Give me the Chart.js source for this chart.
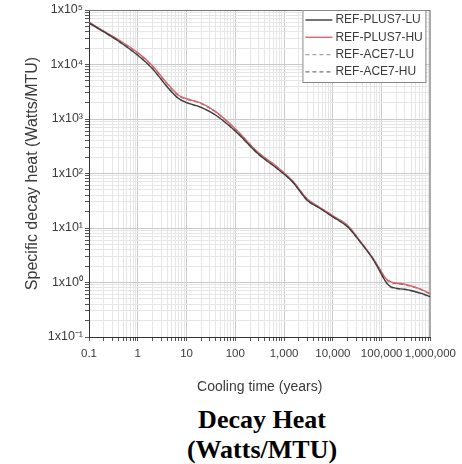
<!DOCTYPE html>
<html>
<head>
<meta charset="utf-8">
<script src="https://cdn.jsdelivr.net/npm/chart.js@4.4.1/dist/chart.umd.min.js"></script>
<style>
  html, body { margin: 0; padding: 0; background: #fff; }
  #wrap { position: relative; width: 462px; height: 464px; }
  #c { position: absolute; left: 0; top: 0; }
  #caption {
    position: absolute; left: 62px; top: 405px; width: 400px;
    text-align: center; color: #000;
    font: bold 26px/30px "Liberation Serif", "Times New Roman", serif;
  }
</style>
</head>
<body>
<div id="wrap">
  <canvas id="c" width="462" height="400"></canvas>
  <div id="caption">Decay Heat<br>(Watts/MTU)</div>
</div>
<script>
// cooling time (years) and specific decay heat (W/MTU)
const coolingYears = [0.1, 0.2, 0.4, 1, 2, 4, 7, 10, 20, 40, 100, 300, 700, 1500, 3000, 5000,
  10000, 20000, 35000, 70000, 100000, 120000, 160000, 300000, 650000, 1000000];
const plus7LU = [58000, 40000, 27000, 14800, 8400, 3900, 2350, 2000, 1640, 1170, 600, 225, 126, 70, 32, 24,
  16, 10.5, 5.8, 2.5, 1.4, 1.05, 0.82, 0.75, 0.63, 0.55];
const plus7HU = [60000, 41000, 28500, 16500, 9500, 4500, 2700, 2350, 1950, 1350, 660, 240, 135, 73, 34, 25,
  16.8, 11.2, 6.0, 2.6, 1.55, 1.2, 1.02, 0.93, 0.75, 0.62];
const ace7LU = [57000, 39500, 26500, 14600, 8300, 3850, 2320, 1980, 1620, 1160, 595, 223, 125, 69, 31.5, 23.8,
  15.9, 10.4, 5.75, 2.48, 1.38, 1.03, 0.8, 0.74, 0.62, 0.54];
const ace7HU = [59000, 40500, 28000, 16200, 9300, 4420, 2650, 2320, 1920, 1330, 650, 237, 133, 72, 33.5, 24.7,
  16.6, 11.1, 5.95, 2.58, 1.52, 1.18, 1.0, 0.91, 0.74, 0.61];
const seriesLabels = ["REF-PLUS7-LU", "REF-PLUS7-HU", "REF-ACE7-LU", "REF-ACE7-HU"];

const xTickLabels = ["0.1", "1", "10", "100", "1,000", "10,000", "100,000", "1,000,000"];
const yTickLabels = ["1x10\u207B\u00B9", "1x10\u2070", "1x10\u00B9", "1x10\u00B2", "1x10\u00B3", "1x10\u2074", "1x10\u2075"];

const FONT = '"Liberation Sans", Arial, sans-serif';
const TEXT = "#3a3a3a";

function pts(vals) {
  return coolingYears.map((x, i) => ({ x: x, y: vals[i] }));
}

function isDecade(v) {
  const l = Math.log10(v);
  return Math.abs(l - Math.round(l)) < 1e-6;
}

// 1..9 x 10^n grid between two decades
function logTicks(minExp, maxExp) {
  const t = [];
  for (let e = minExp; e < maxExp; e++) {
    for (let k = 1; k < 10; k++) t.push({ value: +(k * Math.pow(10, e)).toPrecision(10) });
  }
  t.push({ value: Math.pow(10, maxExp) });
  return t;
}

function gridColor(ctx) {
  return ctx.tick && isDecade(ctx.tick.value) ? "#c9c9c9" : "#e6e6e6";
}

const frame = {
  id: "frame",
  beforeDatasetsDraw(chart) {
    const { ctx, chartArea: a } = chart;
    ctx.save();
    ctx.strokeStyle = "#777";
    ctx.lineWidth = 1;
    ctx.beginPath();
    ctx.moveTo(a.left, a.top + 0.5);
    ctx.lineTo(a.right - 0.5, a.top + 0.5);
    ctx.lineTo(a.right - 0.5, a.bottom);
    ctx.stroke();
    ctx.restore();
  }
};

// boxed legend in the upper right corner
const boxLegend = {
  id: "boxLegend",
  afterDatasetsDraw(chart) {
    const { ctx, chartArea: a } = chart;
    const w = 123, h = 72;
    const x0 = a.right - 5 - w, y0 = a.top;
    ctx.save();
    ctx.fillStyle = "#fff";
    ctx.fillRect(x0, y0, w, h);
    ctx.strokeStyle = "#888";
    ctx.lineWidth = 1;
    ctx.strokeRect(x0 + 0.5, y0 + 0.5, w, h);
    ctx.font = "12px " + FONT;
    ctx.textBaseline = "middle";
    chart.data.datasets.forEach((ds, i) => {
      const y = y0 + 10 + i * 17.3;
      ctx.strokeStyle = ds.borderColor;
      ctx.lineWidth = ds.borderWidth;
      ctx.setLineDash(ds.borderDash || []);
      ctx.beginPath();
      ctx.moveTo(x0 + 3, y);
      ctx.lineTo(x0 + 30, y);
      ctx.stroke();
      ctx.setLineDash([]);
      ctx.fillStyle = TEXT;
      ctx.fillText(ds.label, x0 + 33, y);
    });
    ctx.restore();
  }
};

new Chart(document.getElementById("c"), {
  type: "line",
  data: {
    datasets: [
      { label: seriesLabels[0], data: pts(plus7LU), borderColor: "#3b3b3b", borderWidth: 1.4 },
      { label: seriesLabels[1], data: pts(plus7HU), borderColor: "#d9656e", borderWidth: 1.4 },
      { label: seriesLabels[2], data: pts(ace7LU), borderColor: "#9aab9c", borderWidth: 1.3, borderDash: [4, 3] },
      { label: seriesLabels[3], data: pts(ace7HU), borderColor: "#707478", borderWidth: 1.3, borderDash: [4, 3] }
    ]
  },
  options: {
    responsive: false,
    animation: false,
    layout: { padding: { left: 0, top: 10, right: 26, bottom: 0 } },
    elements: {
      point: { radius: 0 },
      line: { cubicInterpolationMode: "monotone", fill: false }
    },
    plugins: {
      legend: { display: false },
      tooltip: { enabled: false }
    },
    scales: {
      x: {
        type: "logarithmic",
        min: 0.1,
        max: 1000000,
        afterBuildTicks: (s) => { s.ticks = logTicks(-1, 6); },
        afterFit: (s) => { s.height = 63; },
        grid: { color: gridColor, tickColor: "#555", tickLength: 4 },
        border: { color: "#333", width: 1 },
        ticks: {
          autoSkip: false, maxRotation: 0, minRotation: 0, padding: 6,
          color: TEXT, font: { family: FONT, size: 11.5 },
          callback: (v) => isDecade(v) ? xTickLabels[Math.round(Math.log10(v)) + 1] : ""
        },
        title: {
          display: true, text: "Cooling time (years)", color: TEXT,
          font: { family: FONT, size: 14 }, padding: { top: 0, bottom: 4.6 }
        }
      },
      y: {
        type: "logarithmic",
        min: 0.1,
        max: 100000,
        afterBuildTicks: (s) => { s.ticks = logTicks(-1, 5); },
        afterFit: (s) => { s.width = 89; },
        grid: { color: gridColor, tickColor: "#555", tickLength: 4 },
        border: { color: "#333", width: 1 },
        ticks: {
          autoSkip: false, padding: 2,
          color: TEXT, font: { family: FONT, size: 12.5 },
          callback: (v) => isDecade(v) ? yTickLabels[Math.round(Math.log10(v)) + 1] : ""
        },
        title: {
          display: true, text: "Specific decay heat (Watts/MTU)", color: TEXT,
          font: { family: FONT, size: 16 }, padding: { top: 23.4, bottom: 0 }
        }
      }
    }
  },
  plugins: [frame, boxLegend]
});
</script>
</body>
</html>
